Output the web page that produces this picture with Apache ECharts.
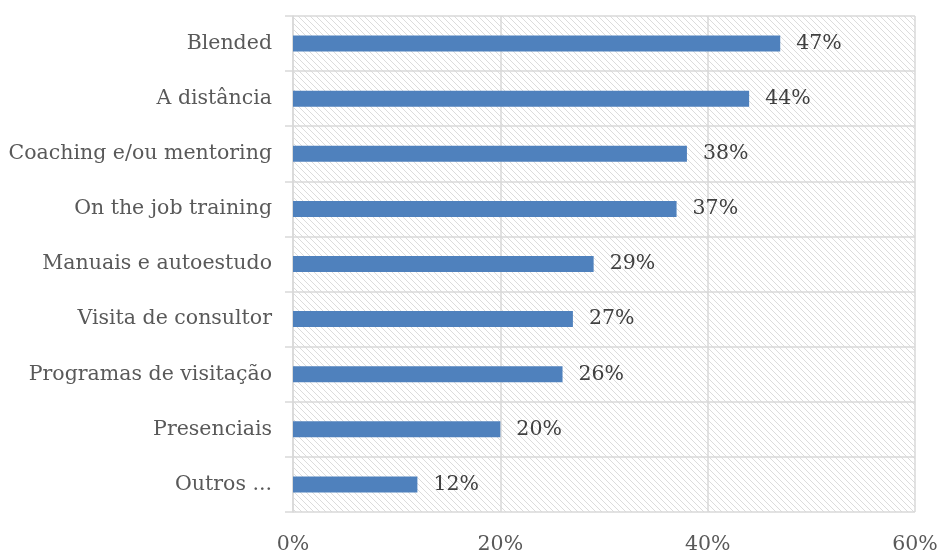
<!DOCTYPE html>
<html>
<head>
<meta charset="utf-8">
<script src="https://cdn.jsdelivr.net/npm/echarts@6/dist/echarts.min.js"></script>
<style>
  html, body { margin: 0; padding: 0; background: #ffffff; }
  #chart { width: 942px; height: 555px; }
</style>
</head>
<body>
<div id="chart"></div>
<script>
// Training formats and share of respondents (%)
const categories = [
  'Blended',
  'A distância',
  'Coaching e/ou mentoring',
  'On the job training',
  'Manuais e autoestudo',
  'Visita de consultor',
  'Programas de visitação',
  'Presenciais',
  'Outros ...'
];
const values = [47, 44, 38, 37, 29, 27, 26, 20, 12];
const xTicks = [0, 20, 40, 60];

// Diagonal hatch tile for the plot background
function hatchTile() {
  const c = document.createElement('canvas');
  const s = 6;
  c.width = s; c.height = s;
  const g = c.getContext('2d');
  g.fillStyle = '#ffffff';
  g.fillRect(0, 0, s, s);
  g.strokeStyle = '#dcdcdc';
  g.lineWidth = 1;
  g.beginPath();
  g.moveTo(-1, -1); g.lineTo(s + 1, s + 1);
  g.moveTo(-1, s - 1); g.lineTo(1, s + 1);
  g.moveTo(s - 1, -1); g.lineTo(s + 1, 1);
  g.stroke();
  return c;
}

const font = '"DejaVu Serif", "Liberation Serif", serif';
const chart = echarts.init(document.getElementById('chart'), null, { renderer: 'canvas' });

chart.setOption({
  animation: false,
  backgroundColor: '#ffffff',
  grid: {
    left: 293, right: 27, top: 16, bottom: 42,
    show: true,
    borderWidth: 0,
    backgroundColor: { image: hatchTile(), repeat: 'repeat' }
  },
  xAxis: {
    type: 'value',
    min: xTicks[0],
    max: xTicks[xTicks.length - 1],
    interval: 20,
    axisLine: { show: false },
    axisTick: { show: false },
    splitLine: { show: true, lineStyle: { color: '#d9d9d9', width: 1.5 } },
    axisLabel: {
      formatter: v => v + '%',
      color: '#595959',
      fontFamily: font,
      fontSize: 20.5,
      margin: 22
    }
  },
  yAxis: {
    type: 'category',
    data: categories,
    inverse: true,
    axisLine: { show: true, lineStyle: { color: '#d9d9d9', width: 1.5 } },
    axisTick: { show: true, length: 8, lineStyle: { color: '#d9d9d9', width: 1.5 } },
    splitLine: { show: true, lineStyle: { color: '#d9d9d9', width: 1.5 } },
    axisLabel: {
      color: '#595959',
      fontFamily: font,
      fontSize: 20.5,
      margin: 21,
      padding: [3, 0, 0, 0]
    }
  },
  series: [{
    type: 'bar',
    data: values,
    barWidth: 16,
    itemStyle: { color: '#4f81bd' },
    label: {
      show: true,
      position: 'right',
      distance: 16,
      padding: [3, 0, 0, 0],
      formatter: p => p.value + '%',
      color: '#404040',
      fontFamily: font,
      fontSize: 20.5
    }
  }]
});
</script>
</body>
</html>
